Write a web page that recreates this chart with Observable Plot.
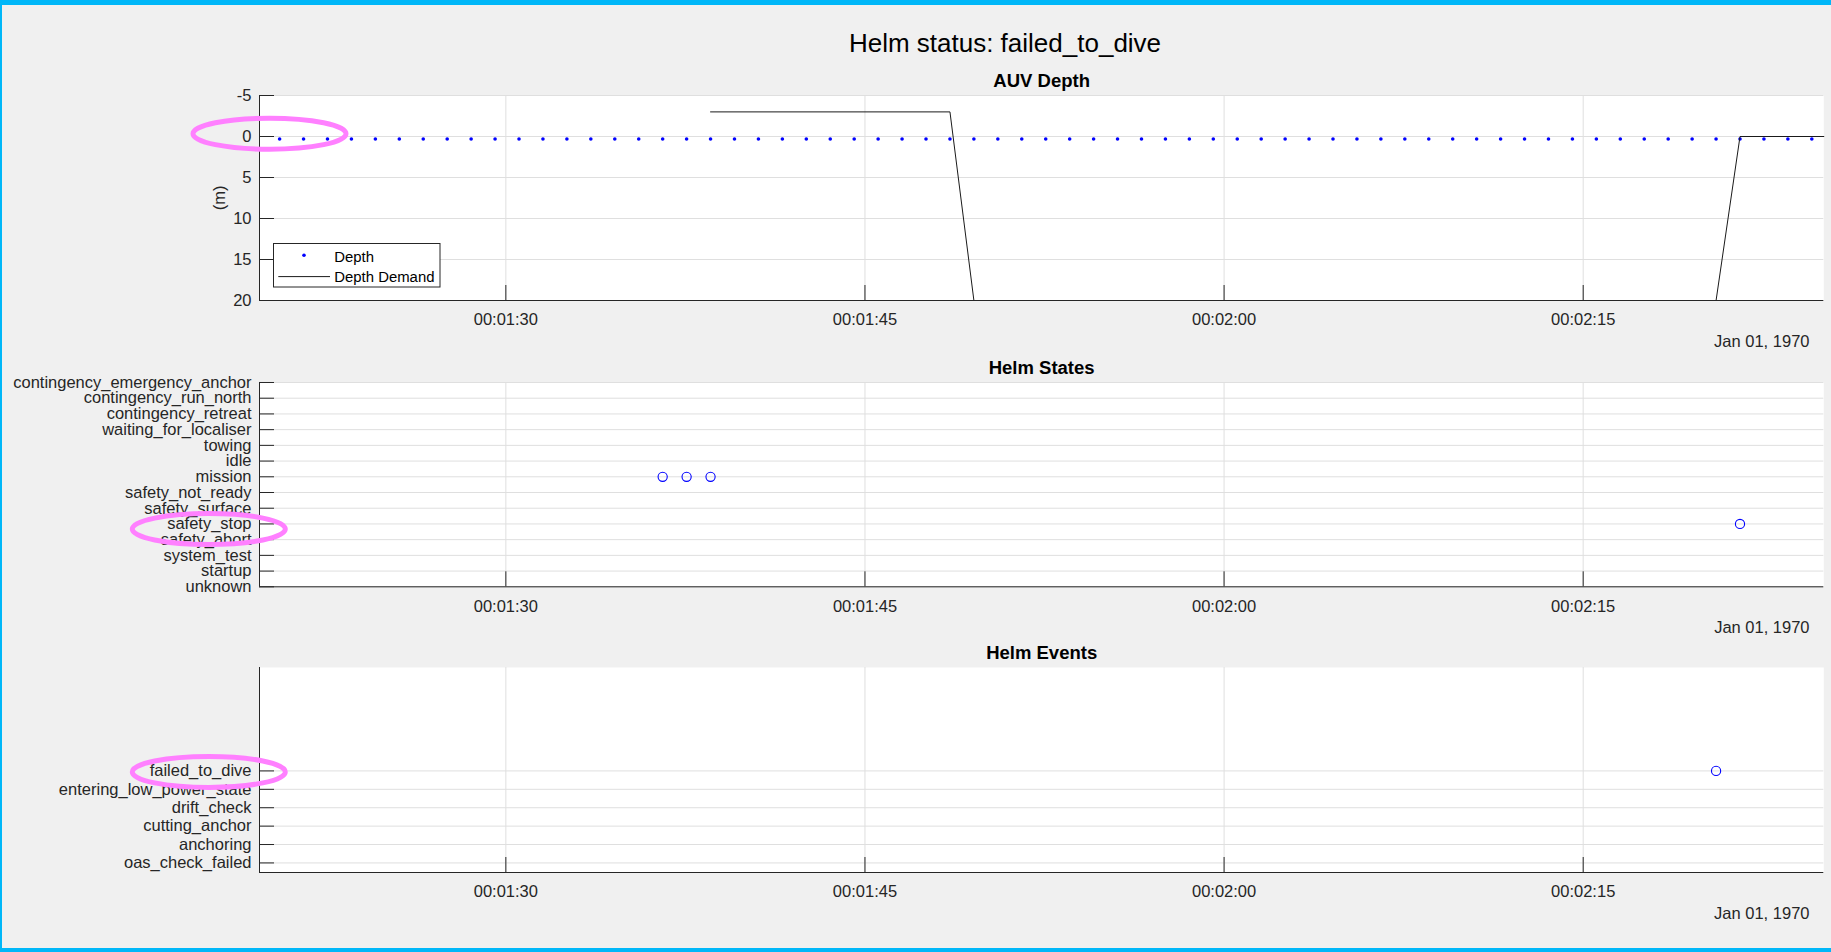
<!DOCTYPE html>
<html>
<head>
<meta charset="utf-8">
<script src="https://cdn.jsdelivr.net/npm/d3@7"></script>
<script src="https://cdn.jsdelivr.net/npm/@observablehq/plot@0.6"></script>
<style>
  html, body { margin: 0; padding: 0; }
  body { width: 1831px; height: 952px; background: #f0f0f0; position: relative; overflow: hidden;
         font-family: "Liberation Sans", Arial, Helvetica, sans-serif; }
  .bar { position: absolute; background: #00b7f8; }
  .panel { position: absolute; left: 0; }
  #title { position: absolute; left: 0; width: 2010px; top: 30px; text-align: center;
           font-size: 26px; line-height: 26px; color: #000; white-space: nowrap; }
  #legend { position: absolute; left: 273px; top: 243px; }
</style>
</head>
<body>
<div class="bar" style="left:0;top:0;width:1831px;height:5px"></div>
<div class="bar" style="left:0;top:0;width:2px;height:952px"></div>
<div class="bar" style="left:0;top:948px;width:1831px;height:4px"></div>
<div id="title">Helm status: failed_to_dive</div>
<div id="p1" class="panel" style="top:65px"></div>
<div id="p2" class="panel" style="top:351.7px"></div>
<div id="p3" class="panel" style="top:637.3px"></div>
<svg id="legend" width="168" height="45">
  <rect x="0.5" y="0.5" width="166.5" height="43.5" fill="#fff" stroke="#262626" stroke-width="1"></rect>
</svg>
<script>
// ---------------- data ----------------
const timeDomainSec = [79.71, 145.05];
const xTickSec = [90, 105, 120, 135];
const depthTicks = [-5, 0, 5, 10, 15, 20];

const depthTimes = [
  80.55, 81.55, 82.55, 83.55, 84.55, 85.55, 86.55, 87.55, 88.55, 89.55,
  90.55, 91.55, 92.55, 93.55, 94.55, 95.55, 96.55, 97.55, 98.55, 99.55,
  100.55, 101.55, 102.55, 103.55, 104.55, 105.55, 106.55, 107.55, 108.55, 109.55,
  110.55, 111.55, 112.55, 113.55, 114.55, 115.55, 116.55, 117.55, 118.55, 119.55,
  120.55, 121.55, 122.55, 123.55, 124.55, 125.55, 126.55, 127.55, 128.55, 129.55,
  130.55, 131.55, 132.55, 133.55, 134.55, 135.55, 136.55, 137.55, 138.55, 139.55,
  140.55, 141.55, 142.55, 143.55, 144.55
];
const depthValues = [
  0.3, 0.3, 0.3, 0.3, 0.3, 0.3, 0.3, 0.3, 0.3, 0.3,
  0.3, 0.3, 0.3, 0.3, 0.3, 0.3, 0.3, 0.3, 0.3, 0.3,
  0.3, 0.3, 0.3, 0.3, 0.3, 0.3, 0.3, 0.3, 0.3, 0.3,
  0.3, 0.3, 0.3, 0.3, 0.3, 0.3, 0.3, 0.3, 0.3, 0.3,
  0.3, 0.3, 0.3, 0.3, 0.3, 0.3, 0.3, 0.3, 0.3, 0.3,
  0.3, 0.3, 0.3, 0.3, 0.3, 0.3, 0.3, 0.3, 0.3, 0.3,
  0.3, 0.3, 0.3, 0.3, 0.3
];
const demandTimes = [98.55, 108.55, 109.55, 140.55, 141.55, 145.05];
const demandValues = [-3, -3, 20, 20, 0, 0];

// bottom -> top
const stateNames = ["unknown", "startup", "system_test", "safety_abort", "safety_stop",
  "safety_surface", "safety_not_ready", "mission", "idle", "towing",
  "waiting_for_localiser", "contingency_retreat", "contingency_run_north",
  "contingency_emergency_anchor"];
const stateTimes = [96.55, 97.55, 98.55, 141.55];
const stateValues = ["mission", "mission", "mission", "safety_stop"];

// bottom -> top
const eventNames = ["oas_check_failed", "anchoring", "cutting_anchor", "drift_check",
  "entering_low_power_state", "failed_to_dive"];
const eventTimes = [140.55];
const eventValues = ["failed_to_dive"];
const eventAxisRange = [0.48, 11.62];

const dateLabel = "Jan 01, 1970";

// ---------------- helpers ----------------
const W = 1831;
const mL = 259, mR = 1831 - 1823.3, mT = 30, mB = 50;
const plotW = W - mL - mR;
const toDate = s => new Date(s * 1000);
const timeFmt = d3.utcFormat("%H:%M:%S");
const AX = "#262626";
const GRID = "#dfdfdf";
const xTicks = xTickSec.map(toDate);

function panel({plotH, y, yTicks, yFormat, yBottom, title, dataMarks, yLabel}) {
  const marks = [
    Plot.frame({fill: "white", stroke: "none"}),
    Plot.ruleX(xTicks, {x: d => d, stroke: GRID, strokeWidth: 1}),
    Plot.ruleY(yTicks, {y: d => d, stroke: GRID, strokeWidth: 1}),
    ...dataMarks,
    Plot.ruleX([toDate(timeDomainSec[0])], {x: d => d, stroke: AX, strokeWidth: 1}),
    Plot.ruleY([yBottom], {y: d => d, stroke: AX, strokeWidth: 1}),
    Plot.tickY(yTicks, {y: d => d, stroke: AX, strokeWidth: 1, insetRight: plotW - 15}),
    Plot.tickX(xTicks, {x: d => d, stroke: AX, strokeWidth: 1, insetTop: plotH - 15}),
    Plot.axisX({ticks: xTicks, tickFormat: timeFmt, tickSize: 0, tickPadding: 13, label: null}),
    Plot.axisY({ticks: yTicks, tickFormat: yFormat, tickSize: 0, tickPadding: 8, label: null}),
    Plot.text([title], {frameAnchor: "top", lineAnchor: "bottom", dy: -8.7,
      fontWeight: "bold", fontSize: 18.5, fill: "#000"}),
    Plot.text([dateLabel], {frameAnchor: "bottom-right", textAnchor: "end",
      lineAnchor: "bottom", dx: -14.3, dy: 46})
  ];
  if (yLabel) {
    marks.push(Plot.text([yLabel], {frameAnchor: "left", rotate: -90, textAnchor: "middle",
      lineAnchor: "middle", dx: -39.5}));
  }
  return Plot.plot({
    width: W, height: mT + plotH + mB,
    marginLeft: mL, marginRight: mR, marginTop: mT, marginBottom: mB,
    style: {background: "transparent", fontFamily: "'Liberation Sans', Arial, sans-serif",
      fontSize: "16.5px", color: AX, overflow: "visible"},
    x: {type: "utc", domain: timeDomainSec.map(toDate)},
    y,
    marks
  });
}

function ring(plot, cx, cy) {
  d3.select(plot).append("ellipse")
    .attr("cx", cx).attr("cy", cy).attr("rx", 76.5).attr("ry", 15.5)
    .attr("fill", "none").attr("stroke", "#ff80ff").attr("stroke-width", 5);
}

// ---------------- panel 1 ----------------
const depthData = depthTimes.map((t, i) => ({t: toDate(t), v: depthValues[i]}));
const demandData = demandTimes.map((t, i) => ({t: toDate(t), v: demandValues[i]}));
const p1 = panel({
  plotH: 205,
  y: {type: "linear", domain: [depthTicks[0], depthTicks[depthTicks.length - 1]], reverse: true},
  yTicks: depthTicks, yFormat: d => String(d), yBottom: depthTicks[depthTicks.length - 1],
  title: "AUV Depth", yLabel: "(m)",
  dataMarks: [
    Plot.dot(depthData, {x: "t", y: "v", r: 1.8, fill: "blue", stroke: "none"}),
    Plot.line(demandData, {x: "t", y: "v", stroke: "#1a1a1a", strokeWidth: 1})
  ]
});
document.getElementById("p1").appendChild(p1);
ring(p1, mL + 10.5, p1.scale("y").apply(0) - 2.3);

// ---------------- panel 2 ----------------
const stateIdx = stateNames.map((_, i) => i + 1);
const stateData = stateTimes.map((t, i) => ({t: toDate(t), v: stateNames.indexOf(stateValues[i]) + 1}));
const p2 = panel({
  plotH: 204.3,
  y: {type: "linear", domain: [1, stateNames.length]},
  yTicks: stateIdx, yFormat: i => stateNames[i - 1], yBottom: 1,
  title: "Helm States",
  dataMarks: [
    Plot.dot(stateData, {x: "t", y: "v", r: 4.6, fill: "none", stroke: "blue", strokeWidth: 1.1})
  ]
});
document.getElementById("p2").appendChild(p2);
ring(p2, mL - 50.2, p2.scale("y").apply(stateNames.indexOf("safety_stop") + 1) + 5.6);

// ---------------- panel 3 ----------------
const eventIdx = eventNames.map((_, i) => i + 1);
const eventData = eventTimes.map((t, i) => ({t: toDate(t), v: eventNames.indexOf(eventValues[i]) + 1}));
const p3 = panel({
  plotH: 205,
  y: {type: "linear", domain: eventAxisRange},
  yTicks: eventIdx, yFormat: i => eventNames[i - 1], yBottom: eventAxisRange[0],
  title: "Helm Events",
  dataMarks: [
    Plot.dot(eventData, {x: "t", y: "v", r: 4.6, fill: "none", stroke: "blue", strokeWidth: 1.1})
  ]
});
document.getElementById("p3").appendChild(p3);
ring(p3, mL - 50.2, p3.scale("y").apply(eventNames.indexOf("failed_to_dive") + 1) + 1.5);

// ---------------- legend ----------------
const lg = d3.select("#legend");
lg.append("circle").attr("cx", 31).attr("cy", 12.2).attr("r", 1.8).attr("fill", "blue");
lg.append("line").attr("x1", 5.3).attr("x2", 57).attr("y1", 33.6).attr("y2", 33.6)
  .attr("stroke", "#1a1a1a").attr("stroke-width", 1);
lg.append("text").attr("x", 61.3).attr("y", 19.4).text("Depth")
  .attr("font-size", 14.9).attr("fill", "#000").attr("font-family", "'Liberation Sans', Arial, sans-serif");
lg.append("text").attr("x", 61.3).attr("y", 39.4).text("Depth Demand")
  .attr("font-size", 14.9).attr("fill", "#000").attr("font-family", "'Liberation Sans', Arial, sans-serif");
</script>
</body>
</html>
